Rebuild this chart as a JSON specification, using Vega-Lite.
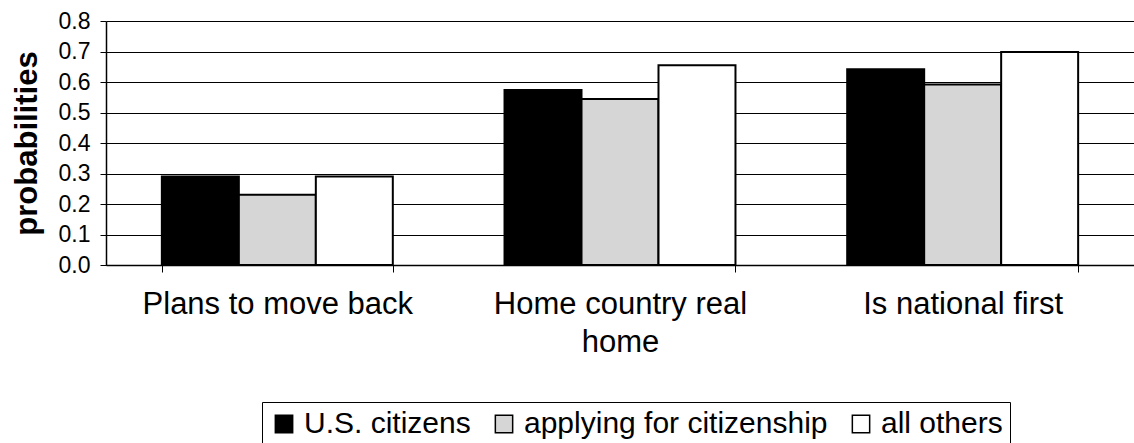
{
  "$schema": "https://vega.github.io/schema/vega-lite/v6.json",
  "width": 1028,
  "height": 244,
  "autosize": {"type": "none"},
  "padding": {"left": 106, "top": 21, "right": 0, "bottom": 178},
  "background": "white",
  "title": {
    "text": "attachments",
    "font": "Liberation Sans",
    "fontSize": 28,
    "fontWeight": "bold",
    "color": "black",
    "baseline": "bottom",
    "frame": "group",
    "offset": 0,
    "dy": 12,
    "dx": -50
  },
  "config": {
    "view": {"stroke": null},
    "font": "Liberation Sans"
  },
  "data": {
    "values": [
      {"category": "Plans to move back", "group": "U.S. citizens", "value": 0.29},
      {"category": "Plans to move back", "group": "applying for citizenship", "value": 0.23},
      {"category": "Plans to move back", "group": "all others", "value": 0.29},
      {"category": "Home country real home", "group": "U.S. citizens", "value": 0.574},
      {"category": "Home country real home", "group": "applying for citizenship", "value": 0.544},
      {"category": "Home country real home", "group": "all others", "value": 0.655},
      {"category": "Is national first", "group": "U.S. citizens", "value": 0.642},
      {"category": "Is national first", "group": "applying for citizenship", "value": 0.592},
      {"category": "Is national first", "group": "all others", "value": 0.698}
    ]
  },
  "mark": {"type": "bar", "stroke": "black", "strokeWidth": 2},
  "encoding": {
    "x": {
      "field": "category",
      "type": "nominal",
      "sort": ["Plans to move back", "Home country real home", "Is national first"],
      "scale": {"paddingInner": 0.326, "paddingOuter": 0.163},
      "axis": {
        "title": null,
        "labelAngle": 0,
        "labelFontSize": 31,
        "labelColor": "black",
        "labelPadding": 17,
        "labelLineHeight": 38,
        "labelLimit": 400,
        "labelExpr": "datum.label == 'Home country real home' ? ['Home country real', 'home'] : datum.label",
        "tickBand": "extent",
        "tickSize": 7,
        "tickColor": "black",
        "domainColor": "black",
        "domainWidth": 1.5,
        "grid": false
      }
    },
    "xOffset": {
      "field": "group",
      "type": "nominal",
      "sort": ["U.S. citizens", "applying for citizenship", "all others"],
      "scale": {"paddingInner": 0, "paddingOuter": 0}
    },
    "y": {
      "field": "value",
      "type": "quantitative",
      "scale": {"domain": [0, 0.8], "nice": false},
      "axis": {
        "title": "probabilities",
        "titleFontSize": 31,
        "titleFontWeight": "bold",
        "titleColor": "black",
        "titleAngle": -90,
        "titleX": -79,
        "titleY": 122,
        "titleAlign": "center",
        "titleBaseline": "middle",
        "values": [0, 0.1, 0.2, 0.3, 0.4, 0.5, 0.6, 0.7, 0.8],
        "format": ".1f",
        "labelFontSize": 23,
        "labelColor": "black",
        "labelPadding": 10,
        "tickSize": 6,
        "tickColor": "black",
        "domainColor": "black",
        "domainWidth": 1.5,
        "grid": true,
        "gridColor": "black",
        "gridWidth": 1.2
      }
    },
    "fill": {
      "field": "group",
      "type": "nominal",
      "sort": ["U.S. citizens", "applying for citizenship", "all others"],
      "scale": {
        "domain": ["U.S. citizens", "applying for citizenship", "all others"],
        "range": ["black", "#d6d6d6", "white"]
      },
      "legend": {
        "title": null,
        "orient": "none",
        "direction": "horizontal",
        "legendX": 156,
        "legendY": 381,
        "symbolType": "square",
        "symbolSize": 300,
        "symbolStrokeColor": "black",
        "symbolStrokeWidth": 1.5,
        "labelFontSize": 30,
        "labelColor": "black",
        "labelLimit": 600,
        "labelOffset": 5,
        "columnPadding": 18,
        "symbolOffset": 0,
        "strokeColor": "black",
        "padding": 7
      }
    }
  }
}
